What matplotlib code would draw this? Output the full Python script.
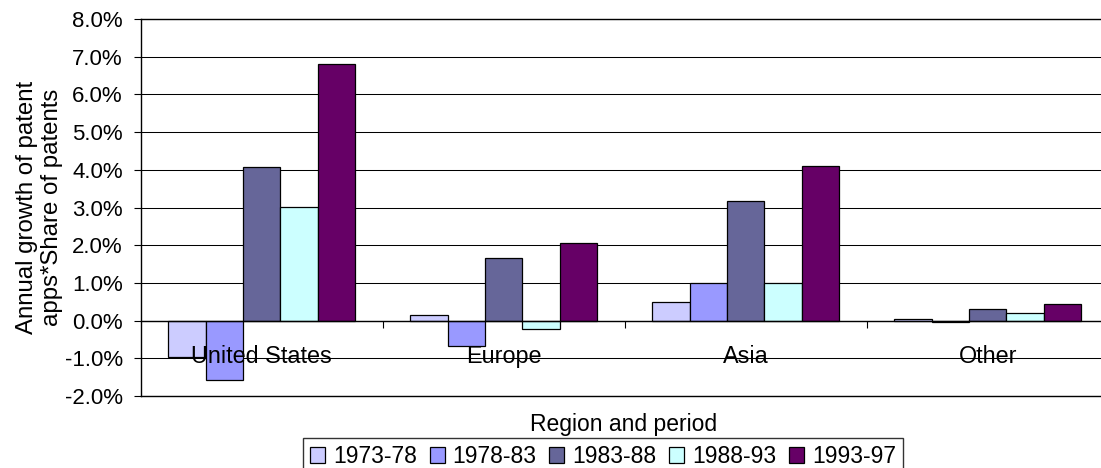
import numpy as np
import matplotlib
matplotlib.use('Agg')
import matplotlib.pyplot as plt
from matplotlib.ticker import FuncFormatter

plt.rcParams['font.family'] = ['Liberation Sans', 'DejaVu Sans']

# dati (valori in %)
regions = ['United States', 'Europe', 'Asia', 'Other']
periods = ['1973-78', '1978-83', '1983-88', '1988-93', '1993-97']
p_1973_78 = [-0.97, 0.16, 0.49, 0.04]
p_1978_83 = [-1.58, -0.68, 1.01, -0.05]
p_1983_88 = [4.07, 1.67, 3.16, 0.32]
p_1988_93 = [3.02, -0.22, 0.99, 0.19]
p_1993_97 = [6.80, 2.06, 4.10, 0.43]
series = [p_1973_78, p_1978_83, p_1983_88, p_1988_93, p_1993_97]
colors = ['#CCCCFF', '#9999FF', '#666699', '#CCFFFF', '#660066']

W, H, DPI = 1101, 468, 100
fig = plt.figure(figsize=(W / DPI, H / DPI), dpi=DPI)
# l'area del grafico esce a destra dall'immagine, come nell'originale
ax = fig.add_axes([140.7 / W, 72 / H, 968 / W, 377 / H])

x = np.arange(len(regions))
bw = 37.3 / 242
for i, (vals, c) in enumerate(zip(series, colors)):
    ax.bar(x + (i - 2) * bw, vals, width=bw, color=c, edgecolor='black',
           linewidth=0.9, label=periods[i], zorder=3)

ymin, ymax = -2, 8
ax.set_ylim(ymin, ymax)
ax.set_xlim(-0.5, len(regions) - 0.5)
ax.set_yticks(np.arange(ymin, ymax + 1, 1))
ax.yaxis.set_major_formatter(FuncFormatter(lambda v, p: f'{v:.1f}%'))
ax.tick_params(axis='y', direction='out', length=5, width=0.8, labelsize=16, pad=8)
ax.yaxis.grid(True, color='black', linewidth=0.75)
ax.set_axisbelow(True)
ax.set_xticks([])
for s in ax.spines.values():
    s.set_linewidth(1.0)

# asse delle categorie sulla linea dello zero (sopra le barre, come in Excel)
sec = ax.secondary_xaxis((0 - ymin) / (ymax - ymin))
sec.set_zorder(5)
sec.set_xticks(x)
sec.set_xticklabels(regions)
sec.set_xticks(x[:-1] + 0.5, minor=True)
sec.tick_params(which='major', length=0, pad=17.5, labelsize=16.8)
sec.tick_params(which='minor', length=5, width=0.8, direction='out')
sec.spines['bottom'].set_linewidth(1.0)

ax.set_ylabel('Annual growth of patent\napps*Share of patents', fontsize=17.3,
              linespacing=1.22)
ax.yaxis.set_label_coords(-0.08, 0.5)

fig.text(623.5 / W, 1 - 430.7 / H, 'Region and period', fontsize=16.5,
         ha='center', va='baseline')

leg = fig.legend(loc='upper left', bbox_to_anchor=(303 / W, 1 - 438.3 / H),
                 ncol=5, fontsize=16.5, frameon=True, fancybox=False,
                 edgecolor='black', handlelength=0.66, handleheight=0.66,
                 handletextpad=0.35, columnspacing=0.55, borderpad=0.3,
                 borderaxespad=0)
leg.get_frame().set_linewidth(1.0)

fig.savefig('out.png', dpi=DPI)
